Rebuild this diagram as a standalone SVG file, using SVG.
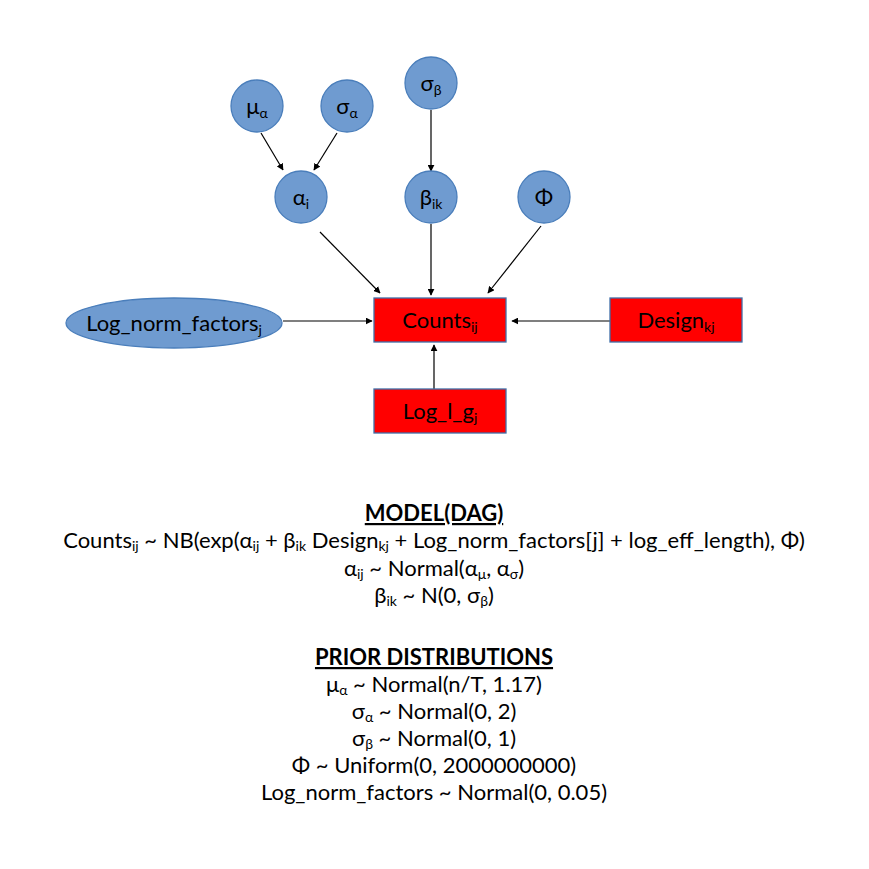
<svg xmlns="http://www.w3.org/2000/svg" width="869" height="869" viewBox="0 0 869 869">
<style>
.c{fill:#6F9BD0;stroke:#4A7EBB;stroke-width:1.3}
.r{fill:#FF0000;stroke:#3F6FA8;stroke-width:1.3}
.t{font-family:Lato,"Liberation Sans",sans-serif;font-size:22px;fill:#000;text-anchor:middle}
.b{font-family:Lato,"Liberation Sans",sans-serif;font-size:22px;fill:#000;text-anchor:middle}
.h{font-weight:bold;text-decoration:underline}
.s{font-size:14px}
.e{stroke:#000;stroke-width:1.2;fill:none;marker-end:url(#a)}
</style>
<defs>
<marker id="a" viewBox="0 0 10 10" refX="9" refY="5" markerWidth="7" markerHeight="7" markerUnits="userSpaceOnUse" orient="auto">
<path d="M0,0L10,5L0,10z" fill="#000"/>
</marker>
</defs>
<rect width="869" height="869" fill="#fff"/>
<g id="connectors">
<line class="e" x1="261" y1="133" x2="283" y2="170"/>
<line class="e" x1="337" y1="133" x2="314" y2="170"/>
<line class="e" x1="431" y1="110" x2="431" y2="171"/>
<line class="e" x1="320" y1="232" x2="380" y2="293"/>
<line class="e" x1="431" y1="224" x2="431" y2="295"/>
<line class="e" x1="541" y1="226" x2="488" y2="293"/>
<line class="e" x1="283" y1="321" x2="372" y2="321"/>
<line class="e" x1="610" y1="321" x2="512" y2="321"/>
<line class="e" x1="434" y1="389" x2="434" y2="345"/>
</g>
<g id="mu_alpha"><circle class="c" cx="257" cy="106" r="26"/><text class="t" x="257" y="114">μ<tspan class="s" dy="4">α</tspan></text></g>
<g id="sigma_alpha"><circle class="c" cx="347" cy="106" r="26"/><text class="t" x="347" y="114">σ<tspan class="s" dy="4">α</tspan></text></g>
<g id="sigma_beta"><circle class="c" cx="431" cy="83" r="26"/><text class="t" x="431" y="91">σ<tspan class="s" dy="4">β</tspan></text></g>
<g id="alpha_i"><circle class="c" cx="301" cy="197" r="26"/><text class="t" x="301" y="205">α<tspan class="s" dy="4">i</tspan></text></g>
<g id="beta_ik"><circle class="c" cx="431" cy="197" r="26"/><text class="t" x="431" y="205">β<tspan class="s" dy="4">ik</tspan></text></g>
<g id="phi"><circle class="c" cx="544" cy="197" r="26"/><text class="t" x="544" y="205">Φ</text></g>
<g id="log_norm_factors"><ellipse class="c" cx="174" cy="323" rx="108" ry="25"/><text class="t" x="174" y="331">Log_norm_factors<tspan class="s" dy="4">j</tspan></text></g>
<g id="counts"><rect class="r" x="374" y="298" width="132" height="44"/><text class="t" x="440" y="328">Counts<tspan class="s" dy="4">ij</tspan></text></g>
<g id="design"><rect class="r" x="610" y="298" width="132" height="44"/><text class="t" x="676" y="328">Design<tspan class="s" dy="4">kj</tspan></text></g>
<g id="log_l_g"><rect class="r" x="374" y="389" width="132" height="44"/><text class="t" x="440" y="419">Log_l_g<tspan class="s" dy="4">j</tspan></text></g>
<g id="text">
<text class="b h" x="434" y="521">MODEL(DAG)</text>
<text class="b" x="434" y="548">Counts<tspan class="s" dy="3">ij</tspan><tspan dy="-3"> ~ NB(exp(α</tspan><tspan class="s" dy="3">ij</tspan><tspan dy="-3"> + β</tspan><tspan class="s" dy="3">ik</tspan><tspan dy="-3"> Design</tspan><tspan class="s" dy="3">kj</tspan><tspan dy="-3"> + Log_norm_factors[j] + log_eff_length), Φ)</tspan></text>
<text class="b" x="434" y="576">α<tspan class="s" dy="3">ij</tspan><tspan dy="-3"> ~ Normal(α</tspan><tspan class="s" dy="3">μ</tspan><tspan dy="-3">, α</tspan><tspan class="s" dy="3">σ</tspan><tspan dy="-3">)</tspan></text>
<text class="b" x="434" y="603">β<tspan class="s" dy="3">ik</tspan><tspan dy="-3"> ~ N(0, σ</tspan><tspan class="s" dy="3">β</tspan><tspan dy="-3">)</tspan></text>
<text class="b h" x="434" y="665">PRIOR DISTRIBUTIONS</text>
<text class="b" x="434" y="692">μ<tspan class="s" dy="3">α</tspan><tspan dy="-3"> ~ Normal(n/T, 1.17)</tspan></text>
<text class="b" x="434" y="719">σ<tspan class="s" dy="3">α</tspan><tspan dy="-3"> ~ Normal(0, 2)</tspan></text>
<text class="b" x="434" y="746">σ<tspan class="s" dy="3">β</tspan><tspan dy="-3"> ~ Normal(0, 1)</tspan></text>
<text class="b" x="434" y="773">Φ ~ Uniform(0, 2000000000)</text>
<text class="b" x="434" y="800">Log_norm_factors ~ Normal(0, 0.05)</text>
</g>
</svg>
